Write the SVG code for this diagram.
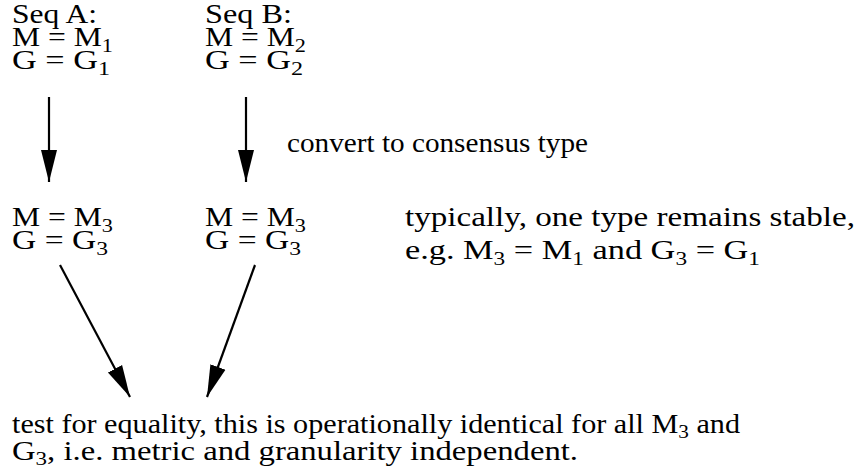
<svg xmlns="http://www.w3.org/2000/svg" width="862" height="469" viewBox="0 0 862 469">
<style>
text{font-family:"Liberation Serif","Times New Roman",serif;font-size:27px;fill:#000}
.big{font-size:28px}
.s{font-size:19px}
.ln{stroke:#000;stroke-width:2.2;fill:none}
</style>
<defs>
<marker id="ah" markerUnits="userSpaceOnUse" markerWidth="34" markerHeight="18" refX="32" refY="8" orient="auto" viewBox="0 0 34 16">
<path d="M0,0 L32,8 L0,16 Z" fill="#000"/>
</marker>
</defs>
<rect width="862" height="469" fill="#fff"/>
<g id="seqA">
<text x="12" y="23" textLength="85" lengthAdjust="spacingAndGlyphs">Seq A:</text>
<text x="12" y="46" textLength="101" lengthAdjust="spacingAndGlyphs">M = M<tspan class="s" dy="6">1</tspan></text>
<text x="12" y="69" textLength="98" lengthAdjust="spacingAndGlyphs">G = G<tspan class="s" dy="6">1</tspan></text>
</g>
<g id="seqB">
<text x="205" y="23" textLength="87" lengthAdjust="spacingAndGlyphs">Seq B:</text>
<text x="205" y="46" textLength="101" lengthAdjust="spacingAndGlyphs">M = M<tspan class="s" dy="6">2</tspan></text>
<text x="205" y="69" textLength="98" lengthAdjust="spacingAndGlyphs">G = G<tspan class="s" dy="6">2</tspan></text>
</g>
<g id="seqA3">
<text x="12" y="226" textLength="101" lengthAdjust="spacingAndGlyphs">M = M<tspan class="s" dy="6">3</tspan></text>
<text x="12" y="249" textLength="96" lengthAdjust="spacingAndGlyphs">G = G<tspan class="s" dy="6">3</tspan></text>
</g>
<g id="seqB3">
<text x="205" y="226" textLength="101" lengthAdjust="spacingAndGlyphs">M = M<tspan class="s" dy="6">3</tspan></text>
<text x="205" y="249" textLength="96" lengthAdjust="spacingAndGlyphs">G = G<tspan class="s" dy="6">3</tspan></text>
</g>
<g id="note">
<text class="big" x="405" y="226" textLength="450" lengthAdjust="spacingAndGlyphs">typically, one type remains stable,</text>
<text class="big" x="405" y="259" textLength="355" lengthAdjust="spacingAndGlyphs">e.g. M<tspan class="s" dy="6">3</tspan><tspan dy="-6"> = M</tspan><tspan class="s" dy="6">1</tspan><tspan dy="-6"> and G</tspan><tspan class="s" dy="6">3</tspan><tspan dy="-6"> = G</tspan><tspan class="s" dy="6">1</tspan></text>
</g>
<g id="test">
<text x="12" y="433" textLength="728" lengthAdjust="spacingAndGlyphs">test for equality, this is operationally identical for all M<tspan class="s" dy="5">3</tspan><tspan dy="-5"> and</tspan></text>
<text x="12" y="460" textLength="566" lengthAdjust="spacingAndGlyphs">G<tspan class="s" dy="5">3</tspan><tspan dy="-5">, i.e. metric and granularity independent.</tspan></text>
</g>
<g id="connectors">
<line class="ln" x1="49" y1="97" x2="49" y2="182" marker-end="url(#ah)"/>
<line class="ln" x1="246" y1="97" x2="246" y2="182" marker-end="url(#ah)"/>
<line class="ln" x1="60" y1="265" x2="130" y2="397" marker-end="url(#ah)"/>
<line class="ln" x1="255" y1="265" x2="207" y2="397" marker-end="url(#ah)"/>
<text x="287" y="152" textLength="301" lengthAdjust="spacingAndGlyphs">convert to consensus type</text>
</g>
</svg>
